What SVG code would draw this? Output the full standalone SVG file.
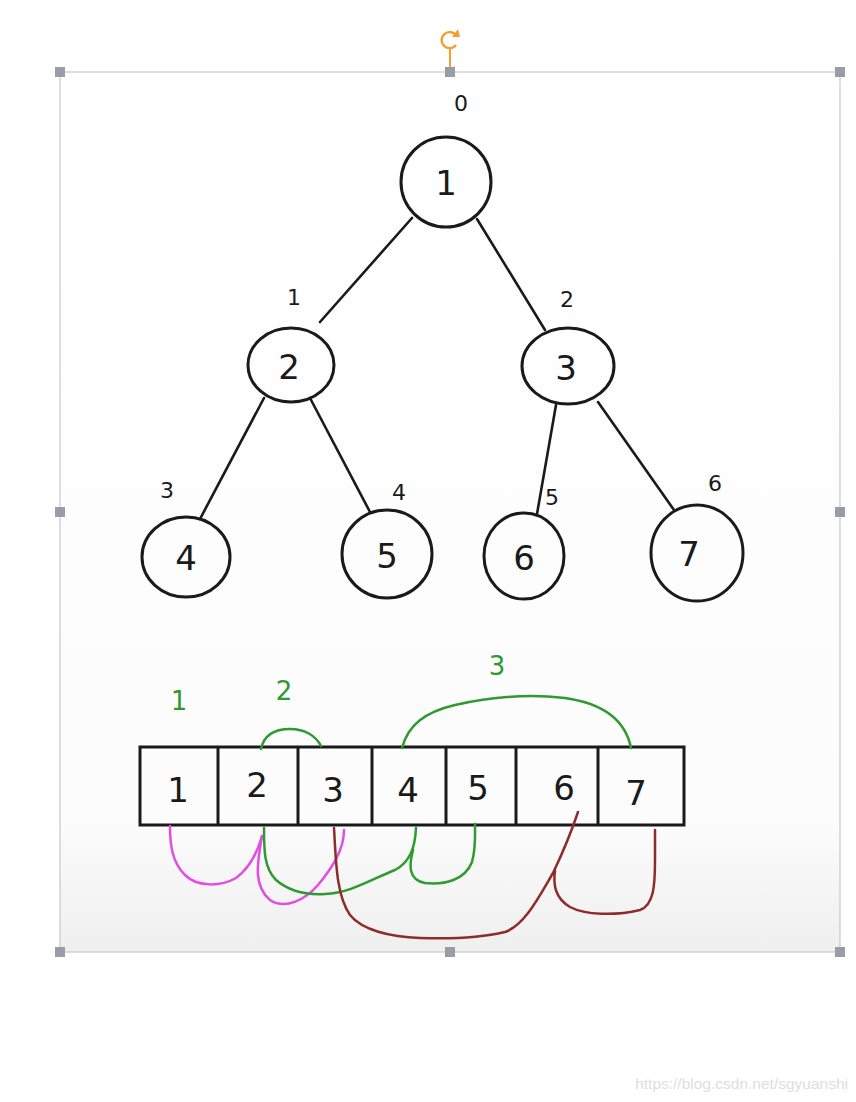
<svg xmlns="http://www.w3.org/2000/svg" width="856" height="1102" viewBox="0 0 856 1102">
<defs>
<linearGradient id="bg" x1="0" y1="0" x2="0" y2="1">
<stop offset="0" stop-color="#ffffff"/>
<stop offset="0.85" stop-color="#fcfcfc"/>
<stop offset="1" stop-color="#efefef"/>
</linearGradient>
<style>
.node{fill:none;stroke:#1a1a1a;stroke-width:3}
.edge{stroke:#1a1a1a;stroke-width:2.6;fill:none;stroke-linecap:round}
.lbl{font-family:"DejaVu Sans","Liberation Sans",sans-serif;font-size:34px;fill:#1a1a1a;text-anchor:middle;font-weight:normal}
.idx{font-family:"DejaVu Sans","Liberation Sans",sans-serif;font-size:22px;fill:#1a1a1a;text-anchor:middle}
.glbl{font-family:"DejaVu Sans","Liberation Sans",sans-serif;font-size:26px;fill:#2e9a2e;text-anchor:middle}
.green{fill:none;stroke:#2f9a30;stroke-width:2.5;stroke-linecap:round;stroke-linejoin:round}
.mag{fill:none;stroke:#e24de2;stroke-width:2.5;stroke-linecap:round;stroke-linejoin:round}
.red{fill:none;stroke:#8e2c2c;stroke-width:2.5;stroke-linecap:round;stroke-linejoin:round}
.handle{fill:#9a9ca8}
.cell{fill:none;stroke:#1a1a1a;stroke-width:3}
</style>
</defs>
<rect width="856" height="1102" fill="#ffffff"/>
<g id="frame">
<rect x="60" y="72" width="780" height="880" fill="url(#bg)" stroke="#c9c9cf" stroke-width="1.2"/>
<line x1="450" y1="48" x2="450" y2="68" stroke="#f0a030" stroke-width="2"/>
<path d="M456.5,36 A8,8 0 1 0 456,45" fill="none" stroke="#f0a030" stroke-width="2.4"/>
<path d="M452,37 L460,37 L458,29 Z" fill="#f0a030"/>
<rect class="handle" x="55" y="67" width="10" height="10"/>
<rect class="handle" x="445" y="67" width="10" height="10"/>
<rect class="handle" x="835" y="67" width="10" height="10"/>
<rect class="handle" x="55" y="507" width="10" height="10"/>
<rect class="handle" x="835" y="507" width="10" height="10"/>
<rect class="handle" x="55" y="947" width="10" height="10"/>
<rect class="handle" x="445" y="947" width="10" height="10"/>
<rect class="handle" x="835" y="947" width="10" height="10"/>
</g>
<g id="connectors">
<line class="edge" x1="412" y1="218" x2="320" y2="322"/>
<line class="edge" x1="477" y1="219" x2="545" y2="330"/>
<line class="edge" x1="264" y1="398" x2="200" y2="519"/>
<line class="edge" x1="310" y1="398" x2="370" y2="512"/>
<line class="edge" x1="556" y1="405" x2="537" y2="514"/>
<line class="edge" x1="598" y1="402" x2="674" y2="510"/>
</g>
<g id="node1"><ellipse class="node" cx="446" cy="182" rx="45" ry="45"/><text class="lbl" x="446" y="195">1</text><text class="idx" x="461" y="111">0</text></g>
<g id="node2"><ellipse class="node" cx="291" cy="365" rx="43" ry="37"/><text class="lbl" x="289" y="379">2</text><text class="idx" x="294" y="305">1</text></g>
<g id="node3"><ellipse class="node" cx="568" cy="366" rx="46" ry="38"/><text class="lbl" x="566" y="380">3</text><text class="idx" x="567" y="307">2</text></g>
<g id="node4"><ellipse class="node" cx="186" cy="557" rx="44" ry="40"/><text class="lbl" x="186" y="570">4</text><text class="idx" x="167" y="498">3</text></g>
<g id="node5"><ellipse class="node" cx="387" cy="554" rx="45" ry="44"/><text class="lbl" x="387" y="568">5</text><text class="idx" x="399" y="500">4</text></g>
<g id="node6"><ellipse class="node" cx="524" cy="556" rx="40" ry="43"/><text class="lbl" x="524" y="570">6</text><text class="idx" x="552" y="505">5</text></g>
<g id="node7"><ellipse class="node" cx="697" cy="553" rx="46" ry="48"/><text class="lbl" x="689" y="566">7</text><text class="idx" x="715" y="491">6</text></g>
<g id="array">
<rect class="cell" x="140" y="747" width="544" height="78"/>
<line class="cell" x1="218" y1="747" x2="218" y2="825"/>
<line class="cell" x1="298" y1="747" x2="298" y2="825"/>
<line class="cell" x1="372" y1="747" x2="372" y2="825"/>
<line class="cell" x1="446" y1="747" x2="446" y2="825"/>
<line class="cell" x1="516" y1="747" x2="516" y2="825"/>
<line class="cell" x1="598" y1="747" x2="598" y2="825"/>
<text class="lbl" x="178" y="802">1</text>
<text class="lbl" x="257" y="797">2</text>
<text class="lbl" x="333" y="802">3</text>
<text class="lbl" x="408" y="802">4</text>
<text class="lbl" x="478" y="800">5</text>
<text class="lbl" x="564" y="800">6</text>
<text class="lbl" x="636" y="805">7</text>
</g>
<g id="annotations">
<text class="glbl" x="179" y="710">1</text>
<text class="glbl" x="284" y="700">2</text>
<text class="glbl" x="497" y="675">3</text>
<path class="green" d="M261,749 C264,735 275,729 290,729 C305,729 316,736 321,746"/>
<path class="green" d="M402,748 C408,725 425,712 455,705 C490,697 530,694 565,698 C600,703 625,718 631,748"/>
<path class="mag" d="M170,826 C170,845 172,862 185,875 C198,888 222,886 236,878 C250,868 258,850 262,836"/>
<path class="mag" d="M262,836 C258,860 252,885 270,900 C285,910 305,900 318,885 C332,868 344,850 344,830"/>
<path class="green" d="M264,828 C264,850 264,868 276,880 C290,892 308,895 325,894 C350,893 370,880 395,870 C410,862 415,848 416,828"/>
<path class="green" d="M413,850 C409,865 408,880 425,883 C445,885 465,880 472,862 C476,848 475,835 475,824"/>
<path class="red" d="M334,828 C336,860 336,895 350,915 C362,930 390,937 420,938 C450,939 480,938 505,932 C525,925 540,895 553,873 C564,850 572,830 578,812"/>
<path class="red" d="M555,870 C553,885 555,898 570,907 C585,915 615,916 640,910 C654,905 655,885 655,860 C655,845 655,835 655,830"/>
</g>
<text x="848" y="1089" font-family="Liberation Sans, Arial, sans-serif" font-size="15.5" fill="#dedede" text-anchor="end">https://blog.csdn.net/sgyuanshi</text>
</svg>
